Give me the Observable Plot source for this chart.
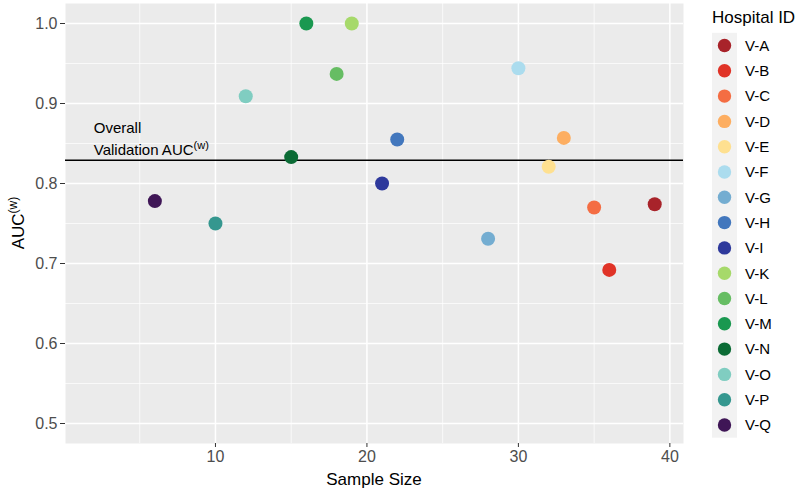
<!DOCTYPE html>
<html>
<head>
<meta charset="utf-8">
<script src="https://cdn.jsdelivr.net/npm/d3@7"></script>
<script src="https://cdn.jsdelivr.net/npm/@observablehq/plot@0.6"></script>
<style>
  html, body { margin: 0; padding: 0; background: white; }
  #chart { width: 800px; height: 493px; }
</style>
</head>
<body>
<div id="chart"></div>
<script>
const hospitals = ["V-A","V-B","V-C","V-D","V-E","V-F","V-G","V-H","V-I","V-K","V-L","V-M","V-N","V-O","V-P","V-Q"];
const sampleSizes = [39, 36, 35, 33, 32, 30, 28, 22, 21, 19, 18, 16, 15, 12, 10, 6];
const aucValues = [0.774, 0.692, 0.770, 0.857, 0.821, 0.944, 0.731, 0.855, 0.800, 1.000, 0.937, 1.000, 0.833, 0.909, 0.750, 0.778];
const colors = ["#a8232a","#e03327","#f46d43","#fdae61","#fee090","#abdcee","#74add1","#4277bd","#2e399c","#a6d96a","#66bd63","#1a9850","#0b6b35","#80cdc1","#35978f","#3f1656"];
const overallAUC = 0.829;
const xTicks = [10, 20, 30, 40];
const xMinor = [5, 15, 25, 35];
const yTicks = [0.5, 0.6, 0.7, 0.8, 0.9, 1.0];
const yMinor = [0.55, 0.65, 0.75, 0.85, 0.95];

const data = hospitals.map((id, i) => ({id, size: sampleSizes[i], auc: aucValues[i]}));

const font = "'Liberation Sans', Arial, Helvetica, sans-serif";

const chart = Plot.plot({
  width: 800,
  height: 493,
  marginLeft: 65,
  marginRight: 117,
  marginTop: 3,
  marginBottom: 50,
  style: {fontFamily: font, fontSize: "15px", background: "white"},
  x: {domain: [0.1, 40.9]},
  y: {domain: [0.475, 1.025]},
  color: {domain: hospitals, range: colors},
  marks: [
    Plot.frame({fill: "#ebebeb", stroke: "none"}),
    Plot.gridX(xMinor, {stroke: "white", strokeOpacity: 1, strokeWidth: 0.7}),
    Plot.gridY(yMinor, {stroke: "white", strokeOpacity: 1, strokeWidth: 0.7}),
    Plot.gridX(xTicks, {stroke: "white", strokeOpacity: 1, strokeWidth: 1.5}),
    Plot.gridY(yTicks, {stroke: "white", strokeOpacity: 1, strokeWidth: 1.5}),
    Plot.ruleY([overallAUC], {stroke: "black", strokeWidth: 1.6}),
    Plot.dot(data, {x: "size", y: "auc", fill: "id", r: 7, stroke: "none"}),
    Plot.axisX({ticks: xTicks, tickSize: 4, tickPadding: 3, color: "#4d4d4d", stroke: "#333", fontSize: 16, label: null}),
    Plot.axisY({ticks: yTicks, tickFormat: d3.format(".1f"), tickSize: 5, tickPadding: 3, color: "#4d4d4d", stroke: "#333", fontSize: 16, label: null})
  ]
});

document.getElementById("chart").appendChild(chart);

const svg = d3.select(chart);
const xs = chart.scale("x");
const ys = chart.scale("y");
const cs = chart.scale("color");

// x axis title
svg.append("text")
  .attr("x", (xs.range[0] + xs.range[1]) / 2)
  .attr("y", 485)
  .attr("text-anchor", "middle")
  .attr("font-size", 17)
  .attr("fill", "black")
  .text("Sample Size");

// y axis title with superscript
const yt = svg.append("text")
  .attr("transform", `translate(24,${(ys.range[0] + ys.range[1]) / 2}) rotate(-90)`)
  .attr("text-anchor", "middle")
  .attr("font-size", 17)
  .attr("fill", "black");
yt.append("tspan").text("AUC");
yt.append("tspan").attr("font-size", 12).attr("dy", -7).text("(w)");

// annotation
const ax = xs.apply(2);
const ay = ys.apply(0.835);
svg.append("text")
  .attr("x", ax).attr("y", ay - 22)
  .attr("text-anchor", "start")
  .attr("font-size", 15).attr("fill", "black")
  .text("Overall");
const at = svg.append("text")
  .attr("x", ax).attr("y", ay)
  .attr("text-anchor", "start")
  .attr("font-size", 15).attr("fill", "black");
at.append("tspan").text("Validation AUC");
at.append("tspan").attr("font-size", 11).attr("dy", -6).text("(w)");

// legend
const lg = svg.append("g").attr("text-anchor", "start");
lg.append("text")
  .attr("x", 712).attr("y", 23)
  .attr("font-size", 17).attr("fill", "black")
  .text("Hospital ID");
const step = 25.3;
const y0 = 45.5;
lg.append("rect")
  .attr("x", 712).attr("y", y0 - step / 2)
  .attr("width", 25).attr("height", step * hospitals.length)
  .attr("fill", "#f2f2f2");
hospitals.forEach((h, i) => {
  const cy = y0 + i * step;
  lg.append("circle").attr("cx", 724.5).attr("cy", cy).attr("r", 6.7).attr("fill", cs.apply(h));
  lg.append("text").attr("x", 745).attr("y", cy + 5.3)
    .attr("font-size", 15).attr("fill", "black").text(h);
});
</script>
</body>
</html>
